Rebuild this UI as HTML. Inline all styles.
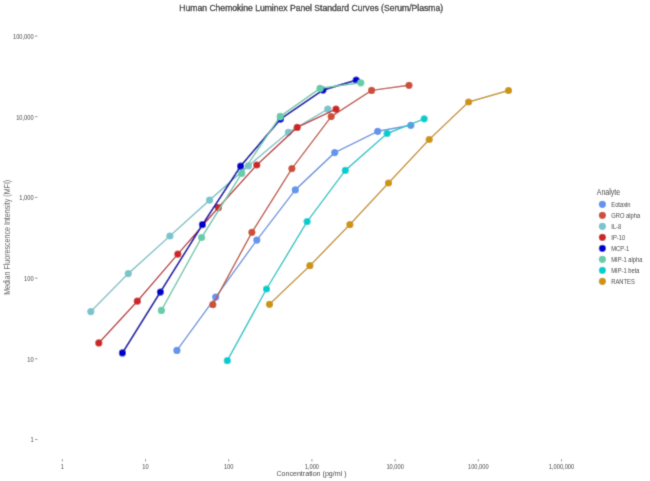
<!DOCTYPE html>
<html><head><meta charset="utf-8"><style>
html,body{margin:0;padding:0;background:#fff;}
body{width:650px;height:481px;overflow:hidden;}
svg{display:block;font-family:"Liberation Sans", sans-serif;}

</style></head><body>
<svg width="650" height="481" viewBox="0 0 650 481">
<defs><filter id="bl" filterUnits="userSpaceOnUse" x="0" y="0" width="650" height="481"><feConvolveMatrix order="3" kernelMatrix="0.0192 0.1001 0.0192 0.1001 0.5228 0.1001 0.0192 0.1001 0.0192" edgeMode="duplicate" preserveAlpha="true"/></filter></defs>
<g filter="url(#bl)">
<rect width="650" height="481" fill="#fff"/>
<text transform="translate(311.20,10.60) scale(1,1.05)" font-size="8.6" text-anchor="middle" fill="#1a1a1a" stroke="#1a1a1a" stroke-width="0.25">Human Chemokine Luminex Panel Standard Curves (Serum/Plasma)</text>
<line x1="35" x2="37.5" y1="36.00" y2="36.00" stroke="#777" stroke-width="0.8"/>
<text transform="translate(33.60,38.80) scale(1,1.2)" font-size="5.7" text-anchor="end" fill="#333">100,000</text>
<line x1="35" x2="37.5" y1="116.70" y2="116.70" stroke="#777" stroke-width="0.8"/>
<text transform="translate(33.60,119.50) scale(1,1.2)" font-size="5.7" text-anchor="end" fill="#333">10,000</text>
<line x1="35" x2="37.5" y1="197.40" y2="197.40" stroke="#777" stroke-width="0.8"/>
<text transform="translate(33.60,200.20) scale(1,1.2)" font-size="5.7" text-anchor="end" fill="#333">1,000</text>
<line x1="35" x2="37.5" y1="278.10" y2="278.10" stroke="#777" stroke-width="0.8"/>
<text transform="translate(33.60,280.90) scale(1,1.2)" font-size="5.7" text-anchor="end" fill="#333">100</text>
<line x1="35" x2="37.5" y1="358.80" y2="358.80" stroke="#777" stroke-width="0.8"/>
<text transform="translate(33.60,361.60) scale(1,1.2)" font-size="5.7" text-anchor="end" fill="#333">10</text>
<line x1="35" x2="37.5" y1="439.50" y2="439.50" stroke="#777" stroke-width="0.8"/>
<text transform="translate(33.60,442.30) scale(1,1.2)" font-size="5.7" text-anchor="end" fill="#333">1</text>
<line x1="62.30" x2="62.30" y1="459.1" y2="461.5" stroke="#777" stroke-width="0.8"/>
<text transform="translate(62.30,468.50) scale(1,1.2)" font-size="5.7" text-anchor="middle" fill="#333">1</text>
<line x1="145.50" x2="145.50" y1="459.1" y2="461.5" stroke="#777" stroke-width="0.8"/>
<text transform="translate(145.50,468.50) scale(1,1.2)" font-size="5.7" text-anchor="middle" fill="#333">10</text>
<line x1="228.70" x2="228.70" y1="459.1" y2="461.5" stroke="#777" stroke-width="0.8"/>
<text transform="translate(228.70,468.50) scale(1,1.2)" font-size="5.7" text-anchor="middle" fill="#333">100</text>
<line x1="311.90" x2="311.90" y1="459.1" y2="461.5" stroke="#777" stroke-width="0.8"/>
<text transform="translate(311.90,468.50) scale(1,1.2)" font-size="5.7" text-anchor="middle" fill="#333">1,000</text>
<line x1="395.10" x2="395.10" y1="459.1" y2="461.5" stroke="#777" stroke-width="0.8"/>
<text transform="translate(395.10,468.50) scale(1,1.2)" font-size="5.7" text-anchor="middle" fill="#333">10,000</text>
<line x1="478.30" x2="478.30" y1="459.1" y2="461.5" stroke="#777" stroke-width="0.8"/>
<text transform="translate(478.30,468.50) scale(1,1.2)" font-size="5.7" text-anchor="middle" fill="#333">100,000</text>
<line x1="561.50" x2="561.50" y1="459.1" y2="461.5" stroke="#777" stroke-width="0.8"/>
<text transform="translate(561.50,468.50) scale(1,1.2)" font-size="5.7" text-anchor="middle" fill="#333">1,000,000</text>
<text transform="translate(311.50,476.30) scale(1,1.08)" font-size="7.1" text-anchor="middle" fill="#333">Concentration (pg/ml )</text>
<text transform="translate(9.8,237.3) rotate(-90) scale(1,1.2)" font-size="7.1" text-anchor="middle" fill="#555">Median Fluorescence Intensity (MFI)</text>
<polyline points="176.9,350.4 215.7,297.1 256.8,240.1 295.3,189.9 334.7,152.6 377.7,131.3 410.8,125.3" fill="none" stroke="#6b94df" stroke-width="1.45" stroke-linejoin="round"/>
<circle cx="176.9" cy="350.4" r="3.6" fill="#6495ED"/>
<circle cx="215.7" cy="297.1" r="3.6" fill="#6495ED"/>
<circle cx="256.8" cy="240.1" r="3.6" fill="#6495ED"/>
<circle cx="295.3" cy="189.9" r="3.6" fill="#6495ED"/>
<circle cx="334.7" cy="152.6" r="3.6" fill="#6495ED"/>
<circle cx="377.7" cy="131.3" r="3.6" fill="#6495ED"/>
<circle cx="410.8" cy="125.3" r="3.6" fill="#6495ED"/>
<polyline points="212.8,304.7 251.9,232.3 291.9,168.6 331.2,116.6 371.6,90.4 409.0,85.3" fill="none" stroke="#bf5442" stroke-width="1.45" stroke-linejoin="round"/>
<circle cx="212.8" cy="304.7" r="3.6" fill="#CD4F39"/>
<circle cx="251.9" cy="232.3" r="3.6" fill="#CD4F39"/>
<circle cx="291.9" cy="168.6" r="3.6" fill="#CD4F39"/>
<circle cx="331.2" cy="116.6" r="3.6" fill="#CD4F39"/>
<circle cx="371.6" cy="90.4" r="3.6" fill="#CD4F39"/>
<circle cx="409.0" cy="85.3" r="3.6" fill="#CD4F39"/>
<polyline points="90.8,311.6 128.3,273.6 169.9,236.0 209.6,200.1 248.4,165.9 288.4,132.3 327.8,109.2" fill="none" stroke="#82c2c9" stroke-width="1.45" stroke-linejoin="round"/>
<circle cx="90.8" cy="311.6" r="3.6" fill="#7AC5CD"/>
<circle cx="128.3" cy="273.6" r="3.6" fill="#7AC5CD"/>
<circle cx="169.9" cy="236.0" r="3.6" fill="#7AC5CD"/>
<circle cx="209.6" cy="200.1" r="3.6" fill="#7AC5CD"/>
<circle cx="248.4" cy="165.9" r="3.6" fill="#7AC5CD"/>
<circle cx="288.4" cy="132.3" r="3.6" fill="#7AC5CD"/>
<circle cx="327.8" cy="109.2" r="3.6" fill="#7AC5CD"/>
<polyline points="98.8,342.9 137.3,301.2 177.8,254.1 218.4,207.6 256.8,165.0 297.2,127.4 336.0,109.1" fill="none" stroke="#bb2d2d" stroke-width="1.45" stroke-linejoin="round"/>
<circle cx="98.8" cy="342.9" r="3.6" fill="#CD2626"/>
<circle cx="137.3" cy="301.2" r="3.6" fill="#CD2626"/>
<circle cx="177.8" cy="254.1" r="3.6" fill="#CD2626"/>
<circle cx="218.4" cy="207.6" r="3.6" fill="#CD2626"/>
<circle cx="256.8" cy="165.0" r="3.6" fill="#CD2626"/>
<circle cx="297.2" cy="127.4" r="3.6" fill="#CD2626"/>
<circle cx="336.0" cy="109.1" r="3.6" fill="#CD2626"/>
<polyline points="122.4,352.9 160.4,292.1 202.4,224.7 240.6,166.2 280.5,119.1 323.0,90.1 356.2,80.1" fill="none" stroke="#0505a9" stroke-width="1.8" stroke-linejoin="round"/>
<circle cx="122.4" cy="352.9" r="3.6" fill="#0000CD"/>
<circle cx="160.4" cy="292.1" r="3.6" fill="#0000CD"/>
<circle cx="202.4" cy="224.7" r="3.6" fill="#0000CD"/>
<circle cx="240.6" cy="166.2" r="3.6" fill="#0000CD"/>
<circle cx="280.5" cy="119.1" r="3.6" fill="#0000CD"/>
<circle cx="323.0" cy="90.1" r="3.6" fill="#0000CD"/>
<circle cx="356.2" cy="80.1" r="3.6" fill="#0000CD"/>
<polyline points="161.4,310.4 201.6,237.5 241.7,173.4 280.2,116.4 320.0,88.3 360.8,82.8" fill="none" stroke="#70c8aa" stroke-width="1.45" stroke-linejoin="round"/>
<circle cx="161.4" cy="310.4" r="3.6" fill="#66CDAA"/>
<circle cx="201.6" cy="237.5" r="3.6" fill="#66CDAA"/>
<circle cx="241.7" cy="173.4" r="3.6" fill="#66CDAA"/>
<circle cx="280.2" cy="116.4" r="3.6" fill="#66CDAA"/>
<circle cx="320.0" cy="88.3" r="3.6" fill="#66CDAA"/>
<circle cx="360.8" cy="82.8" r="3.6" fill="#66CDAA"/>
<polyline points="227.3,360.7 266.5,289.0 307.1,221.6 345.3,170.4 387.1,133.5 424.2,118.8" fill="none" stroke="#16c5c7" stroke-width="1.45" stroke-linejoin="round"/>
<circle cx="227.3" cy="360.7" r="3.6" fill="#00CED1"/>
<circle cx="266.5" cy="289.0" r="3.6" fill="#00CED1"/>
<circle cx="307.1" cy="221.6" r="3.6" fill="#00CED1"/>
<circle cx="345.3" cy="170.4" r="3.6" fill="#00CED1"/>
<circle cx="387.1" cy="133.5" r="3.6" fill="#00CED1"/>
<circle cx="424.2" cy="118.8" r="3.6" fill="#00CED1"/>
<polyline points="269.5,304.3 309.9,265.7 349.9,224.6 388.5,183.0 429.2,139.5 468.6,102.0 508.5,90.5" fill="none" stroke="#c59521" stroke-width="1.45" stroke-linejoin="round"/>
<circle cx="269.5" cy="304.3" r="3.6" fill="#CD950C"/>
<circle cx="309.9" cy="265.7" r="3.6" fill="#CD950C"/>
<circle cx="349.9" cy="224.6" r="3.6" fill="#CD950C"/>
<circle cx="388.5" cy="183.0" r="3.6" fill="#CD950C"/>
<circle cx="429.2" cy="139.5" r="3.6" fill="#CD950C"/>
<circle cx="468.6" cy="102.0" r="3.6" fill="#CD950C"/>
<circle cx="508.5" cy="90.5" r="3.6" fill="#CD950C"/>
<text transform="translate(596.80,195.00) scale(1,1.2)" font-size="7" fill="#333">Analyte</text>
<circle cx="602.4" cy="204.30" r="3.6" fill="#6495ED"/>
<text transform="translate(611.30,206.60) scale(1,1.12)" font-size="5.8" fill="#333">Eotaxin</text>
<circle cx="602.4" cy="215.30" r="3.6" fill="#CD4F39"/>
<text transform="translate(611.30,217.60) scale(1,1.12)" font-size="5.8" fill="#333">GRO alpha</text>
<circle cx="602.4" cy="226.30" r="3.6" fill="#7AC5CD"/>
<text transform="translate(611.30,228.60) scale(1,1.12)" font-size="5.8" fill="#333">IL-8</text>
<circle cx="602.4" cy="237.30" r="3.6" fill="#CD2626"/>
<text transform="translate(611.30,239.60) scale(1,1.12)" font-size="5.8" fill="#333">IP-10</text>
<circle cx="602.4" cy="248.30" r="3.6" fill="#0000CD"/>
<text transform="translate(611.30,250.60) scale(1,1.12)" font-size="5.8" fill="#333">MCP-1</text>
<circle cx="602.4" cy="259.30" r="3.6" fill="#66CDAA"/>
<text transform="translate(611.30,261.60) scale(1,1.12)" font-size="5.8" fill="#333">MIP-1 alpha</text>
<circle cx="602.4" cy="270.30" r="3.6" fill="#00CED1"/>
<text transform="translate(611.30,272.60) scale(1,1.12)" font-size="5.8" fill="#333">MIP-1 beta</text>
<circle cx="602.4" cy="281.30" r="3.6" fill="#CD950C"/>
<text transform="translate(611.30,283.60) scale(1,1.12)" font-size="5.8" fill="#333">RANTES</text>
</g>
</svg>
</body></html>
